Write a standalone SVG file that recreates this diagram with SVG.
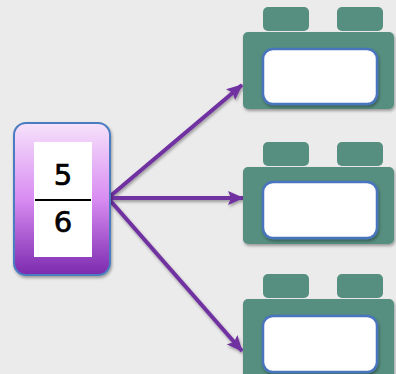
<svg xmlns="http://www.w3.org/2000/svg" width="396" height="374" viewBox="0 0 396 374">
<defs>
<linearGradient id="card" x1="0" y1="0" x2="0" y2="1">
<stop offset="0" stop-color="#f6e2fb"/>
<stop offset="0.5" stop-color="#d98cf2"/>
<stop offset="1" stop-color="#7b2aae"/>
</linearGradient>
<filter id="sh" x="-20%" y="-20%" width="140%" height="140%">
<feDropShadow dx="1" dy="2" stdDeviation="1.5" flood-color="#000" flood-opacity="0.35"/>
</filter>
<marker id="ah" viewBox="0 0 16 14" refX="15" refY="7" markerWidth="16" markerHeight="14" orient="auto" markerUnits="userSpaceOnUse">
<path d="M0,0 L16,7 L0,14 L3,7 Z" fill="#7030a0"/>
</marker>
</defs>
<style>
.stud{fill:#568f7f}
.body{fill:#568f7f}
.win{fill:#ffffff;stroke:#4a74bf;stroke-width:2.5}
.arr{stroke:#7030a0;stroke-width:4;fill:none;marker-end:url(#ah)}
.num{font-family:"DejaVu Sans","Liberation Sans",sans-serif;font-size:29px;fill:#000;stroke:#000;stroke-width:0.7;text-anchor:middle}
</style>
<rect width="396" height="374" fill="#ebebeb"/>
<g id="connectors" filter="url(#sh)">
<line class="arr" x1="108" y1="198" x2="242" y2="85"/>
<line class="arr" x1="108" y1="198" x2="243" y2="198"/>
<line class="arr" x1="108" y1="198" x2="242" y2="351"/>
</g>
<g id="fraction">
<rect x="14" y="123" width="96" height="152" rx="12" fill="url(#card)" stroke="#4a7cc0" stroke-width="2" filter="url(#sh)"/>
<rect x="34" y="142" width="58" height="115" fill="#ffffff"/>
<text class="num" x="63" y="185">5</text>
<line x1="35" y1="200" x2="91" y2="200" stroke="#000" stroke-width="2"/>
<text class="num" x="63" y="232">6</text>
</g>
<g id="block1">
<rect class="stud" x="263" y="7" width="46" height="24" rx="5"/>
<rect class="stud" x="337" y="7" width="46" height="24" rx="5"/>
<rect class="body" x="243" y="32" width="151" height="77" rx="5" filter="url(#sh)"/>
<rect class="win" x="263" y="49" width="114" height="55" rx="10" filter="url(#sh)"/>
</g>
<g id="block2">
<rect class="stud" x="263" y="142" width="46" height="24" rx="5"/>
<rect class="stud" x="337" y="142" width="46" height="24" rx="5"/>
<rect class="body" x="243" y="167" width="151" height="77" rx="5" filter="url(#sh)"/>
<rect class="win" x="263" y="182" width="114" height="56" rx="10" filter="url(#sh)"/>
</g>
<g id="block3">
<rect class="stud" x="263" y="274" width="46" height="24" rx="5"/>
<rect class="stud" x="337" y="274" width="46" height="24" rx="5"/>
<rect class="body" x="243" y="299" width="151" height="80" rx="5" filter="url(#sh)"/>
<rect class="win" x="263" y="316" width="114" height="56" rx="10" filter="url(#sh)"/>
</g>
</svg>
